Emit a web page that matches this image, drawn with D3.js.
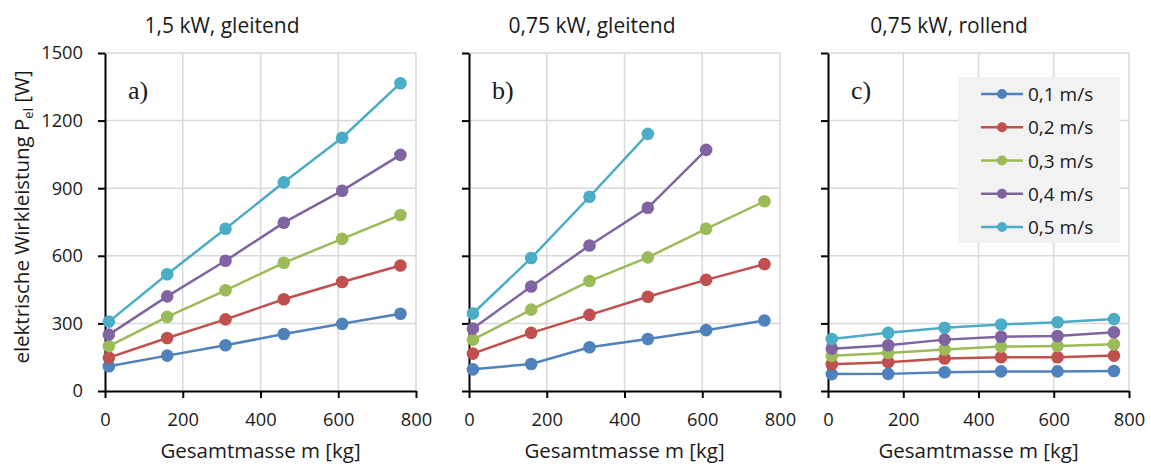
<!DOCTYPE html>
<html><head><meta charset="utf-8">
<script src="https://cdn.jsdelivr.net/npm/d3@7/dist/d3.min.js"></script>
<style>
body{margin:0;background:#fff;}
svg{display:block;}
text{font-family:"Open Sans",sans-serif;fill:#1a1a1a;}
</style></head><body>
<svg id="c" width="1151" height="466"></svg>
<script>
const mass = [10, 160, 310, 460, 610, 760];
const speeds = ["0,1 m/s", "0,2 m/s", "0,3 m/s", "0,4 m/s", "0,5 m/s"];
const colors = ["#4f81bd", "#c0504d", "#9bbb59", "#8064a2", "#4bacc6"];
const xTicks = [0, 200, 400, 600, 800];
const yTicks = [0, 300, 600, 900, 1200, 1500];
const titles = ["1,5 kW, gleitend", "0,75 kW, gleitend", "0,75 kW, rollend"];
const letters = ["a)", "b)", "c)"];

// panel a: 1,5 kW gleitend
const a_v01 = [110, 157, 203, 253, 298, 343];
const a_v02 = [148, 235, 318, 407, 484, 557];
const a_v03 = [199, 329, 447, 569, 675, 781];
const a_v04 = [250, 420, 578, 747, 889, 1048];
const a_v05 = [308, 518, 720, 926, 1124, 1366];
// panel b: 0,75 kW gleitend
const b_v01 = [96, 120, 194, 231, 270, 313];
const b_v02 = [166, 258, 338, 418, 493, 563];
const b_v03 = [228, 361, 488, 593, 720, 842];
const b_v04 = [277, 464, 646, 813, 1070];
const b_v05 = [344, 590, 862, 1141];
// panel c: 0,75 kW rollend
const c_v01 = [75, 76, 83, 87, 87, 89];
const c_v02 = [119, 128, 144, 150, 150, 157];
const c_v03 = [156, 169, 184, 197, 200, 207];
const c_v04 = [188, 203, 228, 241, 244, 261];
const c_v05 = [231, 258, 281, 295, 305, 319];

const panelsData = [
  [a_v01, a_v02, a_v03, a_v04, a_v05],
  [b_v01, b_v02, b_v03, b_v04, b_v05],
  [c_v01, c_v02, c_v03, c_v04, c_v05]
];

const layout = [
  {x0: 105, x1: 416, tx: 222},
  {x0: 469, x1: 780, tx: 592},
  {x0: 828, x1: 1129, tx: 949}
];
const yTop = 53, yBot = 391;

const svg = d3.select("#c");
const y = d3.scaleLinear().domain([0, 1500]).range([yBot, yTop]);

panelsData.forEach((series, pi) => {
  const L = layout[pi];
  const x = d3.scaleLinear().domain([0, 800]).range([L.x0, L.x1]);
  const g = svg.append("g");

  // gridlines
  g.selectAll(".gy").data(yTicks.slice(1)).enter().append("line")
    .attr("x1", L.x0).attr("x2", L.x1).attr("y1", d => y(d)).attr("y2", d => y(d))
    .attr("stroke", "#d9d9d9").attr("stroke-width", 1.5);
  g.selectAll(".gx").data(xTicks.slice(1)).enter().append("line")
    .attr("x1", d => x(d)).attr("x2", d => x(d)).attr("y1", yTop).attr("y2", yBot)
    .attr("stroke", "#d9d9d9").attr("stroke-width", 1.5);

  // axes
  const ax = g.append("g").attr("transform", `translate(0,${yBot})`)
    .call(d3.axisBottom(x).tickValues(xTicks).tickSize(7).tickPadding(15).tickSizeOuter(0));
  ax.select(".domain").attr("stroke", "#000").attr("stroke-width", 2);
  ax.selectAll(".tick line").attr("stroke", "#000").attr("stroke-width", 2);
  ax.selectAll(".tick text").attr("font-size", 18.3).attr("font-family", '"Open Sans",sans-serif').attr("fill", "#1a1a1a");

  const ay = g.append("g").attr("transform", `translate(${L.x0},0)`)
    .call(d3.axisLeft(y).tickValues(yTicks).tickSize(7).tickPadding(15).tickSizeOuter(0)
      .tickFormat(pi === 0 ? d3.format("d") : () => ""));
  ay.select(".domain").attr("stroke", "#000").attr("stroke-width", 2);
  ay.selectAll(".tick line").attr("stroke", "#000").attr("stroke-width", 2);
  ay.selectAll(".tick text").attr("font-size", 18.3).attr("font-family", '"Open Sans",sans-serif').attr("fill", "#1a1a1a");

  // series
  const line = d3.line().x((d, i) => x(mass[i])).y(d => y(d));
  series.forEach((vals, si) => {
    g.append("path").datum(vals).attr("d", line)
      .attr("fill", "none").attr("stroke", colors[si]).attr("stroke-width", 2.5);
    g.selectAll(null).data(vals).enter().append("circle")
      .attr("cx", (d, i) => x(mass[i])).attr("cy", d => y(d)).attr("r", 6.3)
      .attr("fill", colors[si]);
  });

  // title
  svg.append("text").attr("x", L.tx).attr("y", 33).attr("text-anchor", "middle")
    .attr("font-size", 21).text(titles[pi]);
  // letter
  svg.append("text").attr("x", L.x0 + 23).attr("y", 99)
    .attr("font-size", 26).style("font-family", '"Liberation Serif",serif').text(letters[pi]);
  // x label
  svg.append("text").attr("x", (L.x0 + L.x1) / 2).attr("y", 458).attr("text-anchor", "middle")
    .attr("font-size", 20.5).text("Gesamtmasse m [kg]");
});

// y label
const yl = svg.append("text").attr("transform", "translate(29,217) rotate(-90)")
  .attr("text-anchor", "middle").attr("font-size", 20.5);
yl.append("tspan").text("elektrische Wirkleistung P");
yl.append("tspan").attr("font-size", 13).attr("dy", 4).text("el");
yl.append("tspan").attr("dy", -4).text(" [W]");

// legend
const lg = svg.append("g");
lg.append("rect").attr("x", 958).attr("y", 77).attr("width", 162).attr("height", 166).attr("fill", "#f2f2f2");
const ly = d3.scalePoint().domain(speeds).range([94, 227]);
speeds.forEach((s, i) => {
  const yy = ly(s);
  lg.append("line").attr("x1", 981).attr("x2", 1023).attr("y1", yy).attr("y2", yy)
    .attr("stroke", colors[i]).attr("stroke-width", 2.5);
  lg.append("circle").attr("cx", 1002).attr("cy", yy).attr("r", 5).attr("fill", colors[i]);
  lg.append("text").attr("x", 1028).attr("y", yy + 7).attr("font-size", 19).text(s);
});
</script>
</body></html>
